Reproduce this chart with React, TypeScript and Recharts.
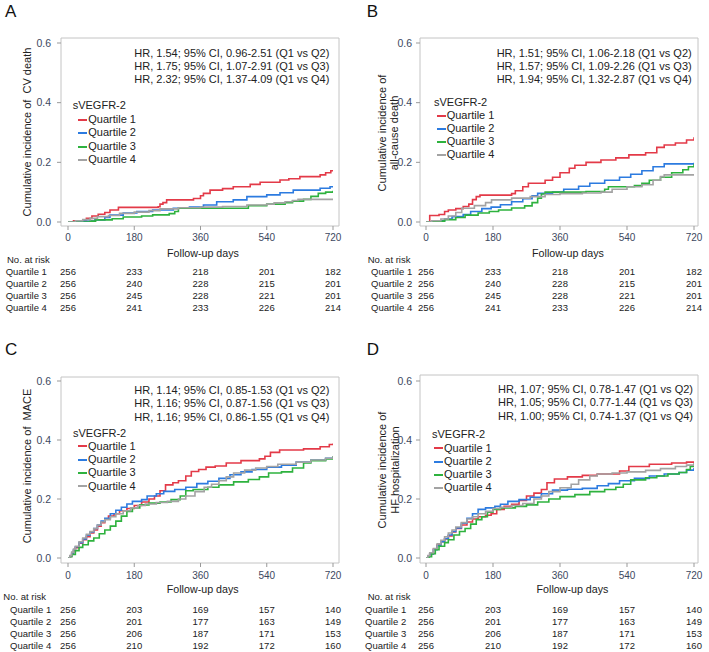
import React from 'react';
import { LineChart, Line, XAxis, YAxis, CartesianGrid, Legend, Customized } from 'recharts';

const FONT = "'Liberation Sans', Arial, Helvetica, sans-serif";
const COLORS = ['#e33a48', '#2c7be0', '#2eb23e', '#a3a3a3'];
const QUARTILES = ['Quartile 1', 'Quartile 2', 'Quartile 3', 'Quartile 4'];
const X_TICKS = [0, 180, 360, 540, 720];
const Y_TICKS = [0, 0.2, 0.4, 0.6];
const TICK_COLOR = '#3c4860';
const FRAME = '#c4c4c4';

type Pt = [number, number];

// Panel A: CV death
const cvDeathQ1: Pt[] = [[0,0],[15,0.004],[50,0.012],[65,0.02],[82,0.026],[100,0.032],[114,0.04],[137,0.049],[245,0.051],[250,0.06],[258,0.065],[268,0.074],[341,0.079],[360,0.088],[368,0.096],[386,0.107],[420,0.112],[449,0.118],[495,0.126],[522,0.133],[576,0.141],[600,0.145],[630,0.152],[685,0.158],[700,0.165],[714,0.172],[720,0.172]];
const cvDeathQ2: Pt[] = [[0,0],[30,0.003],[73,0.007],[100,0.015],[114,0.023],[150,0.03],[187,0.035],[230,0.04],[286,0.046],[330,0.05],[368,0.057],[404,0.068],[449,0.074],[486,0.085],[540,0.091],[576,0.098],[612,0.107],[685,0.113],[712,0.118],[720,0.118]];
const cvDeathQ3: Pt[] = [[0,0],[60,0.003],[75,0.007],[120,0.011],[150,0.017],[200,0.02],[230,0.024],[275,0.028],[290,0.035],[300,0.046],[486,0.046],[490,0.055],[540,0.06],[590,0.065],[610,0.07],[640,0.076],[660,0.086],[680,0.096],[700,0.1],[720,0.105]];
const cvDeathQ4: Pt[] = [[0,0],[20,0.004],[40,0.008],[60,0.012],[80,0.018],[110,0.022],[140,0.029],[180,0.033],[220,0.038],[250,0.044],[300,0.048],[360,0.05],[420,0.052],[486,0.057],[540,0.06],[560,0.064],[590,0.068],[610,0.072],[625,0.076],[720,0.076]];

// Panel B: all-cause death
const allDeathQ1: Pt[] = [[0,0],[10,0.022],[35,0.025],[50,0.035],[60,0.04],[80,0.045],[100,0.052],[115,0.06],[125,0.075],[135,0.085],[145,0.09],[230,0.095],[240,0.105],[260,0.118],[275,0.13],[320,0.14],[340,0.15],[360,0.165],[385,0.18],[400,0.19],[430,0.2],[470,0.208],[510,0.215],[545,0.225],[590,0.232],[620,0.25],[640,0.258],[670,0.265],[700,0.275],[720,0.284]];
const allDeathQ2: Pt[] = [[0,0],[20,0.004],[50,0.01],[70,0.018],[100,0.025],[120,0.035],[150,0.045],[175,0.05],[200,0.058],[230,0.068],[260,0.078],[285,0.088],[300,0.096],[340,0.1],[370,0.11],[410,0.12],[440,0.13],[480,0.14],[520,0.15],[550,0.16],[580,0.172],[610,0.185],[640,0.195],[720,0.199]];
const allDeathQ3: Pt[] = [[0,0],[20,0.003],[50,0.008],[80,0.015],[105,0.023],[140,0.03],[170,0.035],[195,0.04],[230,0.047],[265,0.054],[285,0.065],[300,0.08],[310,0.094],[320,0.1],[430,0.102],[480,0.11],[490,0.118],[560,0.122],[580,0.13],[600,0.14],[630,0.15],[660,0.165],[690,0.175],[705,0.185],[720,0.194]];
const allDeathQ4: Pt[] = [[0,0],[15,0.004],[40,0.01],[60,0.02],[80,0.032],[96,0.046],[130,0.055],[160,0.065],[176,0.074],[230,0.08],[280,0.085],[320,0.092],[360,0.095],[420,0.097],[470,0.1],[500,0.11],[540,0.118],[580,0.125],[610,0.14],[630,0.152],[640,0.158],[720,0.158]];

// Panel C: MACE
const maceQ1: Pt[] = [[0,0],[5,0.005],[10,0.015],[15,0.025],[20,0.035],[30,0.05],[40,0.062],[50,0.072],[60,0.085],[70,0.095],[80,0.108],[90,0.12],[100,0.133],[110,0.142],[125,0.15],[140,0.16],[160,0.168],[180,0.178],[200,0.19],[220,0.2],[235,0.21],[250,0.228],[265,0.248],[285,0.255],[300,0.262],[320,0.278],[335,0.293],[355,0.3],[375,0.308],[400,0.312],[430,0.322],[470,0.33],[520,0.336],[535,0.345],[550,0.358],[575,0.366],[640,0.37],[685,0.377],[710,0.385],[720,0.388]];
const maceQ2: Pt[] = [[0,0],[5,0.006],[10,0.017],[15,0.028],[20,0.038],[30,0.052],[40,0.065],[50,0.077],[60,0.088],[70,0.1],[80,0.112],[90,0.125],[100,0.135],[115,0.15],[130,0.162],[145,0.172],[160,0.183],[175,0.192],[200,0.198],[215,0.21],[240,0.218],[260,0.226],[290,0.232],[320,0.24],[350,0.252],[380,0.26],[410,0.27],[440,0.282],[470,0.292],[500,0.3],[540,0.308],[580,0.315],[620,0.325],[660,0.332],[700,0.338],[720,0.343]];
const maceQ3: Pt[] = [[0,0],[5,0.004],[10,0.012],[20,0.025],[30,0.036],[40,0.045],[55,0.058],[70,0.068],[85,0.082],[100,0.095],[115,0.108],[130,0.125],[145,0.142],[160,0.158],[175,0.17],[195,0.18],[220,0.186],[250,0.19],[280,0.198],[305,0.21],[320,0.228],[340,0.232],[380,0.24],[410,0.248],[450,0.258],[490,0.266],[520,0.275],[545,0.288],[580,0.292],[610,0.305],[640,0.322],[660,0.33],[700,0.336],[720,0.345]];
const maceQ4: Pt[] = [[0,0],[5,0.008],[10,0.02],[15,0.03],[20,0.04],[30,0.055],[40,0.068],[50,0.08],[60,0.09],[70,0.1],[80,0.112],[90,0.122],[100,0.13],[115,0.14],[130,0.15],[150,0.16],[170,0.17],[190,0.178],[210,0.183],[240,0.188],[270,0.192],[300,0.2],[320,0.21],[345,0.225],[370,0.24],[390,0.25],[410,0.262],[430,0.275],[450,0.288],[480,0.298],[510,0.305],[540,0.31],[570,0.318],[620,0.325],[660,0.332],[700,0.338],[720,0.345]];

// Panel D: HF hospitalization
const hfQ1: Pt[] = [[0,0],[5,0.006],[10,0.015],[20,0.03],[30,0.045],[40,0.055],[50,0.065],[60,0.075],[70,0.088],[80,0.1],[95,0.112],[110,0.122],[125,0.132],[140,0.14],[160,0.145],[175,0.15],[190,0.165],[210,0.175],[230,0.182],[250,0.195],[270,0.21],[290,0.22],[310,0.232],[325,0.255],[345,0.268],[380,0.275],[420,0.28],[460,0.285],[520,0.295],[545,0.31],[600,0.318],[660,0.322],[700,0.325],[720,0.328]];
const hfQ2: Pt[] = [[0,0],[5,0.005],[10,0.014],[20,0.028],[30,0.042],[40,0.055],[50,0.066],[60,0.078],[70,0.09],[80,0.102],[95,0.118],[110,0.135],[125,0.15],[140,0.165],[160,0.17],[185,0.175],[200,0.182],[220,0.192],[250,0.198],[280,0.206],[310,0.218],[340,0.23],[380,0.233],[420,0.236],[460,0.245],[490,0.252],[520,0.262],[560,0.27],[600,0.278],[640,0.285],[680,0.29],[700,0.298],[720,0.305]];
const hfQ3: Pt[] = [[0,0],[8,0.004],[15,0.015],[25,0.028],[35,0.04],[50,0.052],[60,0.062],[75,0.078],[90,0.09],[105,0.1],[120,0.115],[135,0.13],[150,0.14],[165,0.155],[180,0.165],[200,0.17],[240,0.175],[270,0.18],[300,0.19],[330,0.2],[360,0.208],[400,0.215],[440,0.225],[480,0.232],[510,0.24],[530,0.25],[550,0.265],[590,0.272],[620,0.278],[650,0.285],[680,0.29],[700,0.3],[710,0.31],[720,0.32]];
const hfQ4: Pt[] = [[0,0],[5,0.008],[10,0.018],[20,0.032],[30,0.048],[40,0.06],[50,0.072],[60,0.085],[70,0.095],[80,0.105],[95,0.12],[110,0.132],[125,0.14],[140,0.15],[160,0.158],[180,0.168],[200,0.172],[230,0.178],[260,0.185],[290,0.2],[310,0.21],[330,0.225],[360,0.238],[390,0.25],[410,0.265],[440,0.278],[460,0.285],[500,0.288],[540,0.292],[590,0.297],[630,0.303],[670,0.31],[700,0.315],[720,0.321]];

// Numbers at risk
const riskDeathQ1 = [256, 233, 218, 201, 182];
const riskDeathQ2 = [256, 240, 228, 215, 201];
const riskDeathQ3 = [256, 245, 228, 221, 201];
const riskDeathQ4 = [256, 241, 233, 226, 214];
const riskMaceQ1 = [256, 203, 169, 157, 140];
const riskMaceQ2 = [256, 201, 177, 163, 149];
const riskMaceQ3 = [256, 206, 187, 171, 153];
const riskMaceQ4 = [256, 210, 192, 172, 160];

// Hazard ratio annotations
const hrCvDeath = ['HR, 1.54; 95% CI, 0.96-2.51 (Q1 vs Q2)', 'HR, 1.75; 95% CI, 1.07-2.91 (Q1 vs Q3)', 'HR, 2.32; 95% CI, 1.37-4.09 (Q1 vs Q4)'];
const hrAllDeath = ['HR, 1.51; 95% CI, 1.06-2.18 (Q1 vs Q2)', 'HR, 1.57; 95% CI, 1.09-2.26 (Q1 vs Q3)', 'HR, 1.94; 95% CI, 1.32-2.87 (Q1 vs Q4)'];
const hrMace = ['HR, 1.14; 95% CI, 0.85-1.53 (Q1 vs Q2)', 'HR, 1.16; 95% CI, 0.87-1.56 (Q1 vs Q3)', 'HR, 1.16; 95% CI, 0.86-1.55 (Q1 vs Q4)'];
const hrHf = ['HR, 1.07; 95% CI, 0.78-1.47 (Q1 vs Q2)', 'HR, 1.05; 95% CI, 0.77-1.44 (Q1 vs Q3)', 'HR, 1.00; 95% CI, 0.74-1.37 (Q1 vs Q4)'];

const toRows = (pts: Pt[]) => pts.map(([day, v]) => ({ day, v }));

const LAYOUT_TOP = { height: 320, margin: { top: 38, bottom: 4 }, xAxisHeight: 90, tickDy: 8.7, rowDy: [42.7, 55, 67.3, 79.3], letterY: 17.3, xTitleY: 257.3, noRiskY: 262.7, rowY: [274.7, 287, 299.3, 311.3] };
const LAYOUT_BOT = { height: 332, margin: { bottom: 4 }, xAxisHeight: 85, tickDy: 10, rowDy: [44, 55.7, 68, 80.3], letterY: 35, xTitleY: 273.3, noRiskY: 280, rowY: [293, 304.7, 317, 329.3] };

const panels = [
  {
    letter: 'A', left: 0, top: 0, ...LAYOUT_TOP, margin: { top: 38, right: 15, bottom: 4, left: 0 },
    yAxisWidth: 61, xPad: { left: 7, right: 6 }, yPad: { top: 5, bottom: 4 }, yTickMargin: 6,
    series: [cvDeathQ1, cvDeathQ2, cvDeathQ3, cvDeathQ4], risk: [riskDeathQ1, riskDeathQ2, riskDeathQ3, riskDeathQ4], hr: hrCvDeath,
    letterX: 5, hrRight: 329.3, hrY: [57, 70, 83],
    yTitle: ['Cumulative incidence of  CV death'], yTitleX: [31], yTitleY: 132,
    xTitleX: 203, noRiskX: 7, rowLabelX: 5.7,
    legendLeft: 72.7, legendTop: 99.3, legendIndent: 5.6, legendRowH: 13.5,
  },
  {
    letter: 'B', left: 355, top: 0, ...LAYOUT_TOP, margin: { top: 38, right: 11, bottom: 4, left: 0 },
    yAxisWidth: 65, xPad: { left: 6, right: 4 }, yPad: { top: 5, bottom: 4 }, yTickMargin: 4,
    series: [allDeathQ1, allDeathQ2, allDeathQ3, allDeathQ4], risk: [riskDeathQ1, riskDeathQ2, riskDeathQ3, riskDeathQ4], hr: hrAllDeath,
    letterX: 11.7, hrRight: 336.7, hrY: [57, 70, 83],
    yTitle: ['Cumulative incidence of', 'all-cause death'], yTitleX: [30.7, 43], yTitleY: 133,
    xTitleX: 213, noRiskX: 12.7, rowLabelX: 16,
    legendLeft: 79, legendTop: 96, legendIndent: 2.7, legendRowH: 13.1,
  },
  {
    letter: 'C', left: 0, top: 320, ...LAYOUT_BOT, margin: { top: 57, right: 15, bottom: 4, left: 0 },
    yAxisWidth: 61, xPad: { left: 7, right: 6 }, yPad: { top: 4, bottom: 5 }, yTickMargin: 6,
    series: [maceQ1, maceQ2, maceQ3, maceQ4], risk: [riskMaceQ1, riskMaceQ2, riskMaceQ3, riskMaceQ4], hr: hrMace,
    letterX: 5, hrRight: 329.3, hrY: [74, 87.3, 100.7],
    yTitle: ['Cumulative incidence of  MACE'], yTitleX: [31], yTitleY: 146,
    xTitleX: 202.7, noRiskX: 3.3, rowLabelX: 10,
    legendLeft: 73, legendTop: 106.5, legendIndent: 5, legendRowH: 13.3,
  },
  {
    letter: 'D', left: 355, top: 320, ...LAYOUT_BOT, margin: { top: 55, right: 11, bottom: 4, left: 0 },
    yAxisWidth: 65, xPad: { left: 6, right: 4 }, yPad: { top: 6, bottom: 5 }, yTickMargin: 4,
    series: [hfQ1, hfQ2, hfQ3, hfQ4], risk: [riskMaceQ1, riskMaceQ2, riskMaceQ3, riskMaceQ4], hr: hrHf,
    letterX: 11.7, hrRight: 338, hrY: [73, 86.3, 99.7],
    yTitle: ['Cumulative incidence of', 'HF hospitalization'], yTitleX: [31.3, 44], yTitleY: 150,
    xTitleX: 217.5, noRiskX: 12.7, rowLabelX: 10,
    legendLeft: 77, legendTop: 108.3, legendIndent: 2, legendRowH: 13.3,
  },
];

function Annotations({ cfg }: any) {
  return (
    <g fontFamily={FONT}>
      <text x={cfg.letterX} y={cfg.letterY} fontSize={17} fill="#111">{cfg.letter}</text>
      {cfg.hr.map((s: string, i: number) => (
        <text key={i} x={cfg.hrRight} y={cfg.hrY[i]} textAnchor="end" fontSize={11} fill="#222">{s}</text>
      ))}
      {cfg.yTitle.map((s: string, i: number) => (
        <text key={'y' + i} x={cfg.yTitleX[i]} y={cfg.yTitleY} transform={`rotate(-90 ${cfg.yTitleX[i]} ${cfg.yTitleY})`}
          textAnchor="middle" fontSize={11} fill="#222" style={{ whiteSpace: 'pre' }}>{s}</text>
      ))}
      <text x={cfg.xTitleX} y={cfg.xTitleY} textAnchor="middle" fontSize={10.7} fill="#222">Follow-up days</text>
      <text x={cfg.noRiskX} y={cfg.noRiskY} fontSize={9.5} fill="#222">No. at risk</text>
      {QUARTILES.map((q, i) => (
        <text key={q} x={cfg.rowLabelX} y={cfg.rowY[i]} fontSize={9.5} fill="#222">{q}</text>
      ))}
    </g>
  );
}

function Panel({ cfg }: any) {
  const renderTick = (props: any) => {
    const { x, y, payload } = props;
    const idx = X_TICKS.indexOf(payload.value);
    return (
      <g fontFamily={FONT}>
        <text x={x} y={y + cfg.tickDy} textAnchor="middle" fontSize={10} fill={TICK_COLOR}>{payload.value}</text>
        {cfg.risk.map((row: number[], i: number) => (
          <text key={i} x={x} y={y + cfg.rowDy[i]} textAnchor="middle" fontSize={9.5} fill="#222">{row[idx]}</text>
        ))}
      </g>
    );
  };
  const renderLegend = (props: any) => {
    const payload = props.payload || [];
    return (
      <div style={{ fontFamily: FONT, fontSize: 11, color: '#222', lineHeight: `${cfg.legendRowH}px`, textAlign: 'left', whiteSpace: 'nowrap' }}>
        <div>sVEGFR-2</div>
        {payload.map((p: any) => (
          <div key={p.value} style={{ display: 'flex', alignItems: 'center', paddingLeft: cfg.legendIndent }}>
            <span style={{ display: 'inline-block', width: 9, height: 2, background: p.color, marginRight: 1 }} />
            <span>{p.value}</span>
          </div>
        ))}
      </div>
    );
  };
  return (
    <div style={{ position: 'absolute', left: cfg.left, top: cfg.top, width: 354, height: cfg.height }}>
      <LineChart width={354} height={cfg.height} margin={cfg.margin} style={{ fontFamily: FONT }}>
        <CartesianGrid
          stroke={FRAME}
          strokeWidth={1}
          horizontalCoordinatesGenerator={({ offset }: any) => [offset.top, offset.top + offset.height]}
          verticalCoordinatesGenerator={({ offset }: any) => [offset.left, offset.left + offset.width]}
        />
        <XAxis type="number" dataKey="day" domain={[0, 720]} ticks={X_TICKS} interval={0} allowDataOverflow
          padding={cfg.xPad} height={cfg.xAxisHeight} axisLine={false} tickLine={{ stroke: '#999' }} tickSize={4}
          tick={renderTick} />
        <YAxis type="number" domain={[0, 0.6]} ticks={Y_TICKS} interval={0} allowDataOverflow
          padding={cfg.yPad} width={cfg.yAxisWidth} axisLine={false} tickLine={{ stroke: '#999' }} tickSize={4}
          tickMargin={cfg.yTickMargin} tickFormatter={(v: number) => v.toFixed(1)}
          tick={{ fontSize: 10.5, fill: TICK_COLOR, fontFamily: FONT }} />
        {cfg.series.map((pts: Pt[], i: number) => (
          <Line key={QUARTILES[i]} data={toRows(pts)} dataKey="v" name={QUARTILES[i]} type="stepAfter"
            stroke={COLORS[i]} strokeWidth={1.6} dot={false} activeDot={false} isAnimationActive={false} />
        ))}
        <Legend layout="vertical" align="center" verticalAlign="middle" content={renderLegend}
          wrapperStyle={{ left: cfg.legendLeft, top: cfg.legendTop, width: 'auto', height: 'auto' }} />
        <Customized component={<Annotations cfg={cfg} />} />
      </LineChart>
    </div>
  );
}

export default function App() {
  return (
    <div style={{ position: 'absolute', left: 0, top: 0, width: 709, height: 652, background: '#fff', overflow: 'hidden' }}>
      {panels.map((p) => <Panel key={p.letter} cfg={p} />)}
    </div>
  );
}
